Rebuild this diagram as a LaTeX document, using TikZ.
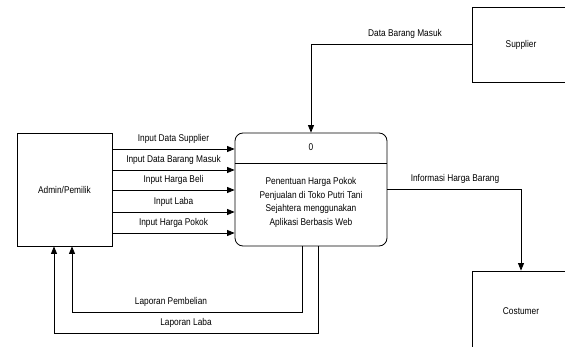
\documentclass[tikz,border=0pt]{standalone}
\usepackage{fontspec}
\setmainfont{Liberation Sans}[FakeStretch=0.85]
\usetikzlibrary{positioning,arrows.meta}

\begin{document}
\begin{tikzpicture}[x=1pt,y=-1pt,line width=0.8pt,
    entity/.style={draw,minimum width=93pt,inner sep=0pt,font=\fontsize{9.8}{11}\selectfont},
    flow/.style={-{Triangle[length=7.5pt,width=6pt]}},
    lbl/.style={font=\fontsize{9.8}{11}\selectfont,inner sep=1pt}]
    \useasboundingbox (0,0) rectangle (565,347);
    % entities
    \node[entity,minimum width=95pt,minimum height=113pt] (admin) at (64.5,189.5) {Admin/Pemilik};
    \node[entity,minimum width=98pt,minimum height=75pt] (sup) at (521,44.5) {Supplier};
    \node[entity,minimum width=98pt,minimum height=80pt] (cos) at (521,311) {Costumer};
    % process
    \node[draw,rounded corners=8pt,minimum width=152pt,minimum height=113pt] (proc) at (311,189.5) {};
    \draw (proc.west |- 0,163) -- (proc.east |- 0,163);
    \node[lbl] (num) at (311,147) {0};
    \node[lbl,align=center,font=\fontsize{9.8}{13.7}\selectfont] (ptext) at (311,202.5)
        {Penentuan Harga Pokok\\Penjualan di Toko Putri Tani\\Sejahtera menggunakan\\Aplikasi Berbasis Web};
    % inputs from admin
    \foreach \y/\ly/\txt [count=\i] in {149/139/Input Data Supplier,170/160/Input Data Barang Masuk,
        190/180/Input Harga Beli,212/202/Input Laba,233/223/Input Harga Pokok} {
        \draw[flow] (admin.east |- 0,\y) -- (proc.west |- 0,\y);
        \node[lbl] (in\i) at (173.5,\ly) {\txt};
    }
    % supplier and costumer
    \draw[flow] (sup.west) -| (proc.north);
    \node[lbl] (dbm) at (405,34) {Data Barang Masuk};
    \draw[flow] (proc.east |- 0,189) -| (cos.north);
    \node[lbl] (ihb) at (455,179) {Informasi Harga Barang};
    % reports back to admin
    \draw[flow] (proc.south -| 302,0) |- (72,312) -- (admin.south -| 72,0);
    \node[lbl] (lp) at (171,302) {Laporan Pembelian};
    \draw[flow] (proc.south -| 318,0) |- (54,333) -- (admin.south -| 54,0);
    \node[lbl] (ll) at (186,323) {Laporan Laba};
\end{tikzpicture}
\end{document}
